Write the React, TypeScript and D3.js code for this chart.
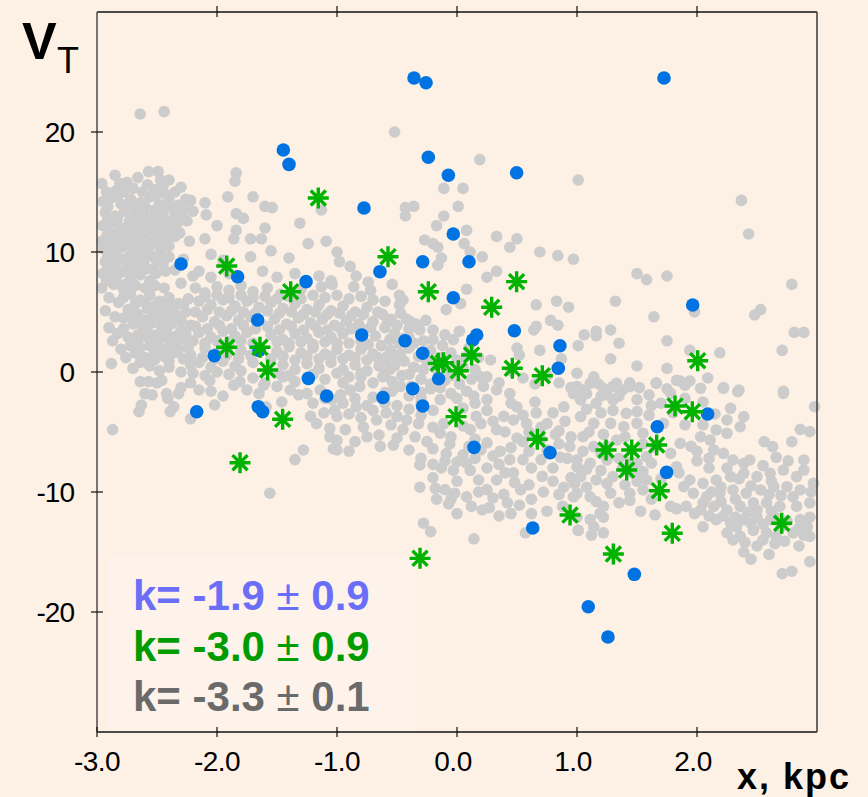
import React from "react";
import * as d3 from "d3";

const xTicks = [-3, -2, -1, 0, 1, 2];
const xTickLabels = ["-3.0", "-2.0", "-1.0", "0.0", "1.0", "2.0"];
const yTicks = [20, 10, 0, -10, -20];
const yTickLabels = ["20", "10", "0", "-10", "-20"];

const kTexts = [
  { a: "k= -1.9 ", b: "0.9", color: "#6b6ef7" },
  { a: "k= -3.0 ", b: "0.9", color: "#009c00" },
  { a: "k= -3.3 ", b: "0.1", color: "#6a6a6a" },
];

const bluePoints: [number, number][] = [
  [-0.358, 24.5], [-0.258, 24.1], [1.725, 24.5], [-1.447, 18.5], [-1.4, 17.3],
  [-0.239, 17.9], [-0.072, 16.4], [0.497, 16.6], [-0.775, 13.67], [-2.3, 9.0],
  [-1.828, 7.94], [-1.258, 7.53], [-0.642, 8.36], [-0.286, 9.19], [0.1, 9.19],
  [-0.031, 11.5], [-0.031, 6.19], [1.964, 5.58], [-1.661, 4.33], [-2.022, 1.36],
  [-1.239, -0.53], [-0.794, 3.08], [-0.433, 2.61], [-0.286, 1.56], [0.164, 3.08],
  [0.131, 2.67], [0.478, 3.44], [0.858, 2.19], [0.844, 0.31], [-0.153, -0.56],
  [-0.369, -1.39], [-1.086, -2.0], [-0.617, -2.13], [-0.286, -2.83], [-2.169, -3.31],
  [-1.656, -2.89], [-1.619, -3.31], [0.142, -6.28], [0.775, -6.72], [1.669, -4.56],
  [2.089, -3.5], [1.747, -8.36], [0.631, -13.0], [1.478, -16.86], [1.094, -19.56],
  [1.258, -22.08], [-1.65, 1.8],
];

const greenPoints: [number, number][] = [
  [-1.156, 14.5], [-1.919, 8.83], [-0.575, 9.61], [-0.239, 6.69], [-1.386, 6.69],
  [0.497, 7.53], [0.289, 5.39], [-1.919, 2.06], [-1.642, 2.06], [-1.578, 0.17],
  [-0.156, 0.72], [-0.114, 0.78], [0.011, 0.11], [0.122, 1.42], [0.461, 0.31],
  [0.711, -0.31], [-1.453, -3.94], [-1.808, -7.56], [-0.008, -3.72], [0.669, -5.61],
  [2.006, 0.94], [1.817, -2.83], [1.961, -3.31], [1.242, -6.5], [1.456, -6.5],
  [1.664, -6.08], [1.414, -8.17], [1.686, -9.89], [0.942, -11.92], [1.303, -15.17],
  [1.794, -13.44], [2.706, -12.61], [-0.308, -15.53],
];

const grayUpper: [number, number][] = [
  [-2.64, 21.5], [-2.44, 21.7], [-0.52, 20.0], [0.19, 17.7], [1.01, 16.0], [-1.84, 16.6], [-1.85, 15.9],
  [-1.91, 14.6], [-1.70, 14.6], [-1.60, 13.8], [-1.54, 13.7], [-1.84, 13.2], [-1.78, 12.8], [-1.60, 12.0],
  [-1.31, 12.4], [-1.13, 13.5], [-1.84, 11.8], [-1.86, 11.1], [-1.72, 11.1], [-1.63, 11.1], [-1.24, 10.7],
  [-1.09, 10.9], [-0.11, 15.3], [0.05, 15.3], [0.01, 13.8], [-0.43, 13.7], [-0.36, 13.8], [-0.43, 13.0],
  [-0.11, 13.0], [-0.17, 12.2], [0.08, 11.8], [-0.27, 11.0], [-0.20, 10.7], [-0.16, 10.4], [0.06, 10.7],
  [0.11, 10.0], [0.33, 11.3], [0.50, 11.1], [0.44, 10.4], [0.69, 10.0], [0.84, 9.7], [0.97, 9.4],
  [0.21, 9.6], [-0.13, 9.5], [-0.16, 8.9], [0.25, 7.9], [0.33, 8.4], [0.08, 6.9], [-0.54, 7.3],
  [2.37, 14.3], [2.43, 11.5], [1.75, 8.0], [1.50, 8.2], [1.58, 7.7], [2.79, 7.3], [1.32, 5.9],
  [1.98, 5.0], [2.48, 4.75], [2.53, 5.2], [2.81, 3.3], [2.89, 3.3], [1.64, 4.6], [1.75, 2.6],
  [2.71, 1.8], [1.94, 1.8], [2.19, 1.6], [1.75, 0.3], [1.50, 0.5], [1.28, 1.1], [2.09, -0.5],
  [1.86, -0.75], [1.94, -0.75], [2.22, -1.3], [2.35, -1.5], [2.72, -1.6], [0.66, 5.6], [0.83, 5.9],
  [0.93, 5.4], [0.78, 4.3], [0.84, 3.9], [0.64, 3.5], [0.66, 3.8], [1.06, 3.1], [1.16, 3.4],
  [1.16, 3.0], [1.01, 2.2], [1.28, 3.5], [1.35, 2.4], [-0.60, 5.9], [-0.48, 6.4], [-0.45, 6.0],
  [-0.48, 5.6], [-0.09, 5.2], [0.03, 5.7], [-0.39, 4.2],
];

const grayLeft: [number, number][] = [
  [-2.95, 14.2], [-2.88, 14.5], [-2.80, 14.0], [-2.72, 14.4], [-2.64, 14.1], [-2.56, 14.6], [-2.48, 14.0],
  [-2.40, 14.3], [-2.32, 13.9], [-2.26, 14.4], [-2.93, 13.3], [-2.85, 13.0], [-2.77, 13.4], [-2.69, 12.9],
  [-2.61, 13.3], [-2.53, 12.8], [-2.45, 13.2], [-2.37, 12.7], [-2.29, 13.1], [-2.95, 12.2], [-2.87, 12.5],
  [-2.79, 12.0], [-2.71, 12.3], [-2.63, 11.9], [-2.55, 12.2], [-2.47, 11.8], [-2.39, 12.1], [-2.31, 11.6],
  [-2.92, 11.3], [-2.84, 11.0], [-2.76, 11.4], [-2.68, 11.1], [-2.62, 11.5], [-2.50, 11.2], [-2.44, 11.5],
  [-2.85, 16.4], [-2.81, 15.7], [-2.84, 15.1], [-2.57, 16.7], [-2.49, 16.7], [-2.47, 16.0], [-2.40, 16.0],
  [-2.92, 15.0], [-2.70, 15.3], [-2.62, 15.0], [-2.52, 15.2], [-2.35, 15.0], [-2.22, 14.3], [-2.10, 14.1],
  [-2.09, 13.1], [-2.0, 12.2], [-2.10, 11.1], [-2.23, 10.9], [-2.35, 11.3], [-2.42, 11.0], [-2.52, 10.9],
  [-2.59, 11.0], [-2.67, 10.4],
  [-2.95, 10.3], [-2.87, 10.0], [-2.79, 10.4], [-2.71, 9.9], [-2.63, 10.1], [-2.55, 9.7], [-2.47, 10.2],
  [-2.40, 9.6], [-2.93, 9.2], [-2.85, 8.9], [-2.77, 9.3], [-2.69, 8.8], [-2.61, 9.1], [-2.53, 8.6],
  [-2.45, 9.0], [-2.95, 8.2], [-2.88, 7.9], [-2.80, 8.3], [-2.72, 7.8], [-2.64, 8.1], [-2.56, 7.6],
  [-2.96, 7.0], [-2.86, 7.3], [-2.78, 6.9], [-2.35, 8.5], [-2.28, 9.4], [-2.20, 8.0], [-2.30, 7.4],
  [-2.90, 6.2], [-2.82, 5.8], [-2.93, 5.1], [-2.85, 4.6], [-2.90, 3.7], [-2.83, 3.2], [-2.87, 2.6],
  [-2.80, 1.9], [-2.88, 0.7], [-2.72, 6.5], [-2.64, 6.0], [-2.56, 6.4], [-2.48, 5.9], [-2.40, 6.2],
  [-2.32, 5.7], [-2.24, 6.1], [-2.74, 5.2], [-2.66, 4.8], [-2.58, 5.3], [-2.50, 4.9], [-2.42, 5.2],
  [-2.34, 4.7], [-2.26, 5.0], [-2.70, 4.0], [-2.62, 3.6], [-2.54, 4.1], [-2.46, 3.7], [-2.38, 4.0],
  [-2.30, 3.5], [-2.22, 3.9], [-2.74, 2.9], [-2.66, 2.5], [-2.58, 2.9], [-2.50, 2.4], [-2.42, 2.8],
  [-2.34, 2.3], [-2.26, 2.7], [-2.68, 1.6], [-2.60, 1.2], [-2.52, 1.7], [-2.44, 1.3], [-2.36, 1.6],
  [-2.28, 1.1], [-2.70, 0.3], [-2.56, 0.5], [-2.48, 0.1], [-2.40, 0.4], [-2.30, 0.0],
  [-2.64, -0.8], [-2.57, -0.8], [-2.50, -0.9], [-2.46, -0.7], [-2.60, -1.8], [-2.54, -1.9], [-2.42, -1.8],
  [-2.32, -1.8], [-2.63, -2.75], [-2.65, -3.3], [-2.41, -2.2], [-2.36, -2.9], [-2.39, -3.3], [-2.22, -3.9],
  [-2.22, -0.9], [-2.06, -0.7], [-2.02, -2.75], [-1.95, -2.0], [-1.86, -1.1], [-1.81, -0.8], [-2.87, -4.8],
  [-1.61, -1.1], [-1.50, -1.2], [-1.39, -1.5], [-1.32, -1.9], [-1.25, -1.8], [-1.14, -1.5], [-1.04, -2.3],
  [-1.02, -3.2], [-1.11, -3.4], [-1.22, -3.7], [-1.17, -4.3], [-1.06, -4.7], [-1.00, -5.7], [-1.03, -6.4],
  [-1.35, -7.3], [-1.28, -6.5], [-1.56, -10.1], [-1.46, -2.5], [-1.59, -2.9],
];

const grayMid: [number, number][] = [
  [-2.05, 9.8], [-1.95, 9.3], [-1.72, 9.6], [-1.55, 10.1], [-1.40, 9.5], [-1.00, 10.0], [-0.98, 9.2],
  [-0.89, 8.8], [-2.15, 8.4], [-2.05, 7.9], [-1.90, 8.2], [-1.62, 8.4], [-1.50, 7.9], [-1.35, 8.2],
  [-1.15, 8.0], [-1.05, 7.6], [-0.84, 8.0], [-0.74, 7.5], [-2.18, 7.0], [-2.10, 6.6], [-2.00, 7.1],
  [-1.90, 6.8], [-1.80, 7.2], [-1.70, 6.7], [-1.58, 7.0], [-1.47, 6.5], [-1.30, 6.9], [-1.20, 6.4],
  [-1.13, 7.1], [-1.04, 7.3], [-0.86, 7.1], [-0.72, 6.8], [-2.15, 5.9], [-2.05, 5.6], [-1.95, 6.0],
  [-1.85, 5.5], [-1.75, 5.9], [-1.65, 5.4], [-1.55, 5.8], [-1.45, 5.3], [-1.35, 5.7], [-1.25, 5.2],
  [-1.15, 5.6], [-1.05, 5.1], [-0.95, 5.5], [-0.85, 5.0], [-0.75, 5.4], [-0.66, 5.0], [-2.12, 4.6],
  [-2.02, 4.2], [-1.92, 4.7], [-1.82, 4.3], [-1.72, 4.6], [-1.52, 4.4], [-1.42, 4.0], [-1.32, 4.5],
  [-1.22, 4.1], [-1.12, 4.4], [-1.02, 3.9], [-0.92, 4.3], [-0.82, 4.0], [-0.70, 4.2], [-2.15, 3.3],
  [-2.05, 2.9], [-1.95, 3.4], [-1.85, 3.0], [-1.75, 3.3], [-1.55, 3.1], [-1.45, 2.7], [-1.35, 3.2],
  [-1.25, 2.8], [-1.15, 3.3], [-1.05, 2.9], [-0.95, 3.2], [-0.68, 3.0], [-2.10, 2.0], [-2.00, 1.6],
  [-1.90, 2.2], [-1.80, 1.8], [-1.50, 1.7], [-1.40, 2.1], [-1.30, 1.6], [-1.20, 2.0], [-1.10, 1.5],
  [-1.00, 1.9], [-0.90, 1.4], [-0.80, 1.9], [-0.70, 1.5], [-2.15, 0.8], [-2.05, 0.4], [-1.95, 0.9],
  [-1.85, 0.5], [-1.70, 0.8], [-1.45, 0.6], [-1.35, 0.2], [-1.25, 0.7], [-1.15, 0.3], [-1.05, 0.8],
  [-0.95, 0.2], [-0.85, 0.6], [-0.75, 0.1], [-0.65, 0.5], [-1.70, -0.5], [-1.60, -0.9], [-1.45, -0.4],
  [-1.35, -0.8], [-1.10, -0.6], [-0.95, -0.9], [-0.80, -0.4], [-0.70, -0.9],
  [-0.62, 4.8], [-0.55, 4.4], [-0.47, 4.9], [-0.40, 3.6], [-0.31, 3.5], [-0.20, 3.5], [-0.60, 3.7],
  [-0.52, 3.2], [-0.44, 2.8], [-0.36, 2.4], [-0.03, 2.7], [-0.12, 2.2], [-0.63, 2.2], [-0.55, 1.8],
  [-0.47, 1.5], [-0.40, 2.0], [-0.22, 1.8], [-0.05, 1.6], [0.10, 2.0], [-0.60, 0.9], [-0.52, 0.5],
  [-0.44, 0.9], [-0.36, 0.4], [-0.25, 0.9], [-0.18, 0.3], [-0.05, -0.3], [0.05, 0.4], [0.15, 0.2],
  [-0.62, -0.4], [-0.54, -0.8], [-0.46, -0.3], [-0.30, -0.6], [-0.22, -1.0], [-0.10, -0.7], [0.02, -1.0],
  [0.12, -0.6], [-0.97, -1.9], [-0.89, -1.5], [-0.81, -1.2], [-0.47, -1.2], [-0.22, -1.4], [-0.14, -2.3],
  [-0.60, -1.7], [-0.70, -2.1], [-0.40, -2.0], [-0.05, -1.8], [0.08, -1.6],
  [-1.00, -3.7], [-0.93, -4.8], [-1.06, -5.4], [-1.00, -6.5], [-0.78, -4.6], [-0.84, -2.9], [-0.67, -4.0],
  [-0.65, -5.25], [-0.64, -6.2], [-0.53, -6.1], [-0.59, -3.4], [-0.50, -3.7], [-0.42, -4.0], [-0.32, -4.3],
  [-0.35, -5.4], [-0.11, -4.3], [-0.14, -5.1], [-0.06, -6.0], [-0.09, -6.8], [0.05, -6.9], [0.11, -4.8],
  [0.16, -3.7], [0.25, -2.3], [0.33, -1.5], [0.44, -1.8], [0.50, -2.9], [0.39, -3.7], [0.33, -4.8],
  [0.25, -5.9], [0.36, -6.6], [0.44, -7.3], [0.58, -4.3], [0.66, -3.4], [0.75, -4.3], [0.89, -2.9],
  [0.97, -1.8], [0.86, -7.1], [0.94, -6.2], [1.0, -7.9], [-0.31, -7.75], [-0.13, -8.0], [-0.03, -8.2],
  [0.11, -8.2], [0.25, -8.0], [0.33, -9.0], [0.18, -9.0], [0.25, -9.8], [0.08, -10.4], [-0.02, -10.1],
  [-0.10, -9.8], [-0.18, -9.7], [-0.31, -9.6], [-0.07, -11.0], [0.12, -11.2], [0.21, -11.5], [0.39, -10.2],
  [0.47, -8.4], [0.53, -9.8], [0.71, -8.7], [0.72, -10.0], [0.52, -11.1], [0.89, -9.6], [0.98, -9.3],
  [0.97, -10.4], [-0.28, -12.6], [-0.22, -13.3], [0.14, -13.9], [0.57, -13.4], [1.01, -13.2],
  [0.28, 1.0], [0.50, 2.0], [0.52, 1.4], [0.69, 1.8], [0.87, 1.1], [1.0, -0.1], [1.14, -0.4],
  [1.30, -1.2], [1.44, -0.9], [1.66, -0.9], [1.83, -0.7], [0.25, -0.4], [0.35, -0.9], [0.45, 0.1],
  [0.55, -0.5], [0.65, -1.0], [0.75, -0.3], [0.85, -0.9], [0.95, -1.3], [1.05, -1.5], [1.18, -1.0],
  [1.25, -1.9], [1.38, -1.5], [1.52, -1.3], [1.60, -1.9], [1.75, -1.4], [1.90, -1.1],
  [0.05, -3.0], [0.15, -2.6], [0.25, -3.2], [0.45, -2.6], [0.55, -3.6], [0.65, -2.5], [0.80, -3.4],
  [0.90, -4.1], [0.82, -5.2], [0.70, -5.6], [0.60, -5.0], [0.50, -5.5], [0.40, -5.0], [0.15, -5.6],
  [0.05, -4.5], [-0.05, -5.4], [0.00, -7.5], [0.15, -7.2], [0.30, -7.0], [0.60, -6.6], [0.70, -7.3],
  [0.80, -8.0], [0.62, -8.0], [0.40, -8.4], [0.00, -9.1], [-0.20, -8.8], [0.95, -8.8], [0.88, -11.2],
  [0.75, -11.6], [0.35, -12.0], [0.00, -11.8],
];

const grayRight: [number, number][] = [
  [1.00, -1.22], [1.11, -0.94], [1.22, -1.36], [1.33, -0.94], [1.44, -1.22], [1.03, -2.33], [1.16, -2.61],
  [1.30, -2.33], [1.41, -3.44], [1.03, -3.72], [1.14, -4.28], [1.28, -4.28], [1.39, -4.56], [1.50, -4.28],
  [1.05, -5.39], [1.14, -6.22], [1.33, -5.67], [1.55, -5.11], [1.00, -7.33], [1.11, -7.61], [1.25, -7.33],
  [1.50, -7.61], [1.58, -7.06], [1.03, -8.72], [1.16, -9.0], [1.30, -8.72], [1.47, -8.44], [1.58, -9.0],
  [1.00, -10.1], [1.11, -10.4], [1.28, -10.1], [1.44, -10.1], [1.55, -9.83], [1.22, -11.2], [1.44, -10.7],
  [1.53, -11.6], [1.65, -11.9], [1.78, -11.2], [1.89, -9.56], [1.83, -7.89], [1.78, -6.78], [1.86, -5.94],
  [1.72, -4.28], [1.78, -1.78], [1.66, -0.94], [1.89, -0.94], [2.03, -1.36], [2.22, -1.36], [2.34, -1.64],
  [2.28, -3.03], [2.39, -3.72], [2.36, -4.56], [2.16, -4.83], [2.25, -5.11], [2.03, -5.39], [2.11, -5.67],
  [2.14, -6.5], [2.22, -6.78], [2.30, -7.33], [2.39, -7.61], [2.44, -7.33], [2.56, -5.81], [2.63, -6.22],
  [2.79, -5.81], [2.66, -7.11], [2.89, -7.33], [2.89, -8.17], [2.86, -4.78], [2.94, -4.97], [2.72, -1.78],
  [2.98, -2.89],
  [1.94, -9.0], [2.05, -9.28], [2.16, -9.0], [2.28, -8.72], [2.39, -8.44], [2.50, -8.72], [2.61, -8.44],
  [2.72, -8.17], [2.83, -8.72], [1.97, -10.1], [2.08, -10.4], [2.19, -10.1], [2.30, -9.83], [2.41, -10.1],
  [2.53, -9.83], [2.64, -9.56], [2.75, -9.56], [2.86, -9.83], [2.97, -9.28], [1.91, -11.2], [2.03, -11.5],
  [2.14, -11.2], [2.25, -11.5], [2.36, -11.2], [2.47, -10.9], [2.58, -10.9], [2.69, -11.2], [2.83, -11.2],
  [2.94, -10.9], [2.16, -12.3], [2.28, -12.6], [2.39, -12.3], [2.50, -12.1], [2.61, -12.3], [2.86, -12.3],
  [2.94, -12.1], [2.25, -13.4], [2.36, -13.7], [2.47, -13.2], [2.58, -13.4], [2.66, -13.7], [2.89, -13.6],
  [2.94, -13.7], [2.39, -15.0], [2.73, -14.1], [2.94, -15.8], [2.71, -16.8], [2.79, -16.6],
  [1.01, -13.2], [1.12, -13.6], [1.22, -13.4], [1.14, -12.9], [1.19, -11.8], [1.22, -12.1], [2.05, -12.9],
  [1.83, -11.4], [1.00, -12.1], [1.11, -12.3],
  [1.70, -2.6], [1.80, -3.4], [1.90, -4.4], [1.95, -6.2], [2.00, -7.4], [1.85, -8.4], [1.65, -6.3],
  [1.70, -8.9], [2.10, -8.0], [2.20, -10.8], [2.45, -9.5], [2.60, -10.2], [2.70, -12.9], [2.33, -12.9],
  [2.55, -14.0], [2.85, -13.0], [2.62, -11.6], [2.42, -11.7], [2.20, -9.6], [2.05, -10.9],
];

const grayFill: [number, number][] = [
  [-2.91, 13.8], [-2.83, 14.7], [-2.76, 13.7], [-2.68, 13.6], [-2.60, 13.8], [-2.52, 13.5], [-2.44, 13.8],
  [-2.36, 13.5], [-2.28, 13.7], [-2.20, 13.4], [-2.91, 12.7], [-2.83, 12.8], [-2.73, 12.6], [-2.65, 12.6],
  [-2.57, 12.5], [-2.49, 12.5], [-2.41, 12.4], [-2.33, 12.4], [-2.25, 12.6], [-2.90, 11.7], [-2.82, 11.7],
  [-2.74, 11.8], [-2.66, 11.6], [-2.58, 11.7], [-2.50, 11.7], [-2.42, 11.6], [-2.34, 11.8], [-2.96, 10.9],
  [-2.88, 10.6], [-2.80, 10.8], [-2.72, 10.6], [-2.64, 10.9], [-2.56, 10.5], [-2.48, 10.7], [-2.40, 10.5],
  [-2.96, 15.7], [-2.75, 15.8], [-2.66, 16.2], [-2.58, 15.6], [-2.45, 15.5], [-2.30, 15.4], [-2.88, 14.9],
  [-2.78, 15.0], [-2.52, 14.7], [-2.44, 14.9],
  [-2.91, 9.6], [-2.83, 9.6], [-2.75, 9.5], [-2.67, 9.5], [-2.59, 9.6], [-2.51, 9.4], [-2.43, 9.5],
  [-2.91, 8.6], [-2.83, 8.5], [-2.75, 8.6], [-2.67, 8.4], [-2.59, 8.6], [-2.51, 8.2], [-2.43, 8.4],
  [-2.92, 7.6], [-2.84, 7.6], [-2.76, 7.3], [-2.68, 7.2], [-2.60, 7.0], [-2.52, 7.2], [-2.44, 7.0],
  [-2.78, 6.2], [-2.68, 5.7], [-2.60, 5.8], [-2.52, 5.5], [-2.44, 5.6], [-2.36, 5.4], [-2.28, 5.6],
  [-2.78, 4.5], [-2.70, 4.6], [-2.62, 4.4], [-2.54, 4.6], [-2.46, 4.4], [-2.38, 4.5], [-2.30, 4.3],
  [-2.78, 3.6], [-2.66, 3.1], [-2.58, 3.4], [-2.50, 3.1], [-2.42, 3.3], [-2.34, 3.0], [-2.26, 3.2],
  [-2.72, 2.2], [-2.64, 2.0], [-2.56, 2.2], [-2.48, 2.0], [-2.40, 2.1], [-2.32, 1.9], [-2.24, 2.0],
  [-2.76, 1.2], [-2.64, 0.8], [-2.52, 1.0], [-2.40, 0.9], [-2.22, 0.6],
  [-2.10, 6.3], [-2.00, 6.4], [-1.90, 6.2], [-1.80, 6.4], [-1.70, 6.2], [-1.60, 6.3], [-1.50, 6.1],
  [-1.40, 6.3], [-1.30, 6.1], [-1.10, 6.2], [-1.00, 6.4], [-0.90, 6.1], [-0.80, 6.3], [-0.70, 6.0],
  [-2.18, 5.0], [-2.08, 5.2], [-1.98, 5.0], [-1.88, 5.1], [-1.78, 5.0], [-1.68, 4.9], [-1.58, 5.1],
  [-1.48, 4.9], [-1.38, 5.0], [-1.28, 4.8], [-1.18, 5.0], [-1.08, 4.8], [-0.98, 4.9], [-0.88, 4.7],
  [-0.78, 4.8], [-2.18, 3.8], [-2.08, 3.6], [-1.98, 3.9], [-1.88, 3.6], [-1.78, 3.9], [-1.68, 3.6],
  [-1.58, 3.8], [-1.48, 3.5], [-1.38, 3.8], [-1.28, 3.5], [-1.18, 3.8], [-1.08, 3.5], [-0.98, 3.7],
  [-0.88, 3.6], [-0.78, 3.5], [-0.72, 3.7], [-2.20, 2.6], [-2.10, 2.4], [-2.00, 2.6], [-1.90, 2.5],
  [-1.80, 2.6], [-1.70, 2.4], [-1.50, 2.5], [-1.40, 2.4], [-1.30, 2.5], [-1.20, 2.3], [-1.10, 2.5],
  [-1.00, 2.4], [-0.90, 2.4], [-0.80, 2.6], [-0.74, 2.3], [-2.22, 1.4], [-2.12, 1.2], [-2.02, 1.1],
  [-1.92, 1.4], [-1.82, 1.1], [-1.72, 1.4], [-1.55, 1.1], [-1.45, 1.3], [-1.35, 1.0], [-1.25, 1.3],
  [-1.15, 1.1], [-1.05, 1.3], [-0.95, 1.1], [-0.85, 1.2], [-0.75, 1.0], [-0.66, 1.2], [-2.20, -0.1],
  [-2.10, -0.3], [-2.00, 0.0], [-1.90, -0.2], [-1.80, 0.1], [-1.50, -0.1], [-1.40, -0.3], [-1.20, -0.2],
  [-1.00, -0.1], [-0.90, -0.4], [-0.80, -0.1], [-0.60, -0.2],
  [-2.30, -1.3], [-2.15, -1.5], [-2.05, -1.6], [-1.75, -1.5], [-1.65, -1.8], [-1.20, -2.6], [-1.10, -2.2],
  [-0.95, -2.6], [-0.85, -2.2], [-0.75, -2.8], [-0.90, -3.5], [-0.80, -3.8], [-0.70, -3.2], [-0.60, -2.6],
  [-0.50, -2.8], [-0.40, -3.1], [-0.30, -2.7], [-0.20, -3.2], [-0.30, -3.6], [-0.20, -4.6], [-0.45, -4.8],
  [-0.55, -4.4], [-0.75, -5.4], [-0.85, -5.8], [-0.90, -6.6], [-0.50, -5.5], [-0.25, -5.8], [-0.40, -6.5],
  [-0.20, -6.4], [-0.30, -7.2], [-0.10, -7.4],
  [-0.58, 4.1], [-0.50, 3.9], [-0.42, 4.4], [-0.34, 4.0], [-0.26, 4.3], [-0.56, 2.7], [-0.48, 2.4],
  [-0.40, 2.9], [-0.28, 2.6], [-0.20, 2.7], [-0.10, 3.1], [0.02, 3.4], [-0.58, 1.3], [-0.50, 1.1],
  [-0.32, 1.3], [-0.14, 1.2], [0.00, 1.0], [0.08, 1.3], [0.18, 1.2], [-0.56, 0.2], [-0.40, -0.2],
  [-0.28, 0.2], [-0.10, 0.4], [0.00, 0.7], [0.20, -0.4], [-0.54, -1.6], [-0.38, -1.2], [-0.30, -1.7],
  [-0.14, -1.3], [0.00, -2.2], [0.14, -2.0], [0.22, -1.2], [-0.30, -2.2],
  [0.20, -4.3], [0.30, -4.1], [0.47, -4.0], [0.70, -4.6], [0.85, -4.9], [0.95, -5.4], [0.10, -6.2],
  [0.20, -6.5], [0.45, -6.3], [0.55, -5.8], [0.75, -6.5], [0.85, -6.0], [0.92, -7.2], [0.55, -7.3],
  [0.35, -7.7], [0.08, -7.6], [-0.20, -7.7], [0.48, -9.2], [0.60, -9.4], [0.80, -9.1], [0.85, -10.2],
  [0.62, -10.6], [0.42, -10.9], [0.30, -10.5], [0.18, -10.0], [-0.05, -10.6], [0.45, -11.8], [0.62, -11.8],
  [0.27, -11.3], [-0.17, -10.6],
  [1.08, -1.8], [1.20, -2.0], [1.35, -2.0], [1.50, -2.3], [1.62, -2.8], [1.08, -3.1], [1.20, -3.4],
  [1.30, -3.2], [1.50, -3.3], [1.60, -3.6], [1.10, -5.0], [1.22, -5.2], [1.40, -5.4], [1.55, -6.0],
  [1.25, -6.2], [1.05, -6.6], [1.20, -6.8], [1.35, -7.2], [1.45, -7.5], [1.62, -7.6], [1.08, -8.1],
  [1.20, -8.2], [1.38, -8.0], [1.55, -8.3], [1.25, -9.3], [1.40, -9.4], [1.50, -9.1], [1.08, -9.6],
  [1.35, -10.9], [1.16, -10.8], [1.62, -10.6], [1.90, -2.2], [2.05, -2.5], [2.15, -3.5], [2.25, -4.0],
  [2.05, -4.4], [2.00, -6.6], [2.10, -7.2], [2.25, -8.0], [2.35, -8.9], [2.55, -7.8], [2.62, -9.1],
  [2.76, -7.4], [2.80, -10.4], [2.95, -10.0], [2.70, -10.3], [2.50, -11.5], [2.32, -10.6], [2.12, -10.0],
  [1.98, -11.8], [2.10, -12.0], [2.22, -12.0], [2.32, -12.1], [2.45, -12.6], [2.55, -12.7], [2.65, -12.1],
  [2.75, -12.4], [2.92, -12.9], [2.80, -13.4], [2.65, -14.3], [2.50, -14.5], [2.40, -14.2], [2.30, -14.0],
  [2.85, -14.5], [2.45, -15.6], [2.60, -15.2],
];

const grayPoints = [...grayUpper, ...grayLeft, ...grayMid, ...grayRight, ...grayFill];

const FONT = "'Liberation Sans', Arial, Helvetica, sans-serif";

export default function App() {
  const x = d3.scaleLinear().domain([-3, 3]).range([97, 817]);
  const y = d3.scaleLinear().domain([-30, 30]).range([732, 12]);
  const [x0, x1] = x.range();
  const [yB, yT] = y.range();

  const starPath = (cx: number, cy: number) => {
    const r = 10.5;
    const d = r * 0.72;
    const p = d3.path();
    p.moveTo(cx - r, cy); p.lineTo(cx + r, cy);
    p.moveTo(cx, cy - r); p.lineTo(cx, cy + r);
    p.moveTo(cx - d, cy - d); p.lineTo(cx + d, cy + d);
    p.moveTo(cx - d, cy + d); p.lineTo(cx + d, cy - d);
    return p.toString();
  };

  return (
    <div style={{ position: "fixed", left: 0, top: 0 }}>
      <svg width={868} height={797} style={{ display: "block" }}>
        <rect x={0} y={0} width={868} height={797} fill="#fdf1e6" />
        <rect x={110} y={557} width={305} height={173} fill="#fdf3ea" />

        <g fill="#cccccc">
          {grayPoints.map((d, i) => (
            <circle key={i} cx={x(d[0])} cy={y(d[1])} r={5.8} />
          ))}
        </g>
        <g fill="#0073e2">
          {bluePoints.map((d, i) => (
            <circle key={i} cx={x(d[0])} cy={y(d[1])} r={6.8} />
          ))}
        </g>
        <g stroke="#00b300" strokeWidth={3.4} fill="none">
          {greenPoints.map((d, i) => (
            <path key={i} d={starPath(x(d[0]), y(d[1]))} />
          ))}
        </g>

        <line x1={x0} y1={yT} x2={x1} y2={yT} stroke="#111" strokeWidth={1.3} />
        <line x1={x0} y1={yB} x2={x1} y2={yB} stroke="#111" strokeWidth={1.3} />
        <line x1={x0} y1={yT} x2={x0} y2={yB} stroke="#555" strokeWidth={1.6} />
        <line x1={x1} y1={yT} x2={x1} y2={yB} stroke="#444" strokeWidth={1.6} />

        {xTicks.map((t, i) => (
          <g key={i}>
            <line x1={x(t)} x2={x(t)} y1={yB - 5} y2={yB + 5} stroke="#111" strokeWidth={1.2} />
            {t > -3 && (
              <line x1={x(t)} x2={x(t)} y1={yT - 6} y2={yT + 5} stroke="#111" strokeWidth={1.2} />
            )}
            <text
              x={x(t) + (t >= 0 ? -4 : 0)}
              y={771}
              textAnchor="middle"
              fontFamily={FONT}
              fontSize={28}
              letterSpacing={-0.5}
              fill="#000"
            >
              {xTickLabels[i]}
            </text>
          </g>
        ))}
        {yTicks.map((t, i) => (
          <g key={i}>
            <line x1={x0 - 6} x2={x0 + 6} y1={y(t)} y2={y(t)} stroke="#111" strokeWidth={1.2} />
            <text
              x={74}
              y={y(t)}
              dy="0.36em"
              textAnchor="end"
              fontFamily={FONT}
              fontSize={28}
              letterSpacing={-1}
              fill="#000"
            >
              {yTickLabels[i]}
            </text>
          </g>
        ))}

        <text x={22} y={59} fontFamily={FONT} fontSize={52} fontWeight="bold" fill="#000">
          V
        </text>
        <text x={57} y={72.5} fontFamily={FONT} fontSize={36} fill="#000">
          T
        </text>
        <text x={737} y={789} fontFamily={FONT} fontSize={36} fontWeight="bold" letterSpacing={2} fill="#000">
          x, kpc
        </text>

        {kTexts.map((k, i) => (
          <text
            key={i}
            x={133}
            y={610 + i * 50.5}
            fontFamily={FONT}
            fontSize={42}
            fontWeight="bold"
            fill={k.color}
          >
            {k.a}
            <tspan fontWeight="normal">±</tspan>
            {" " + k.b}
          </text>
        ))}
      </svg>
    </div>
  );
}
